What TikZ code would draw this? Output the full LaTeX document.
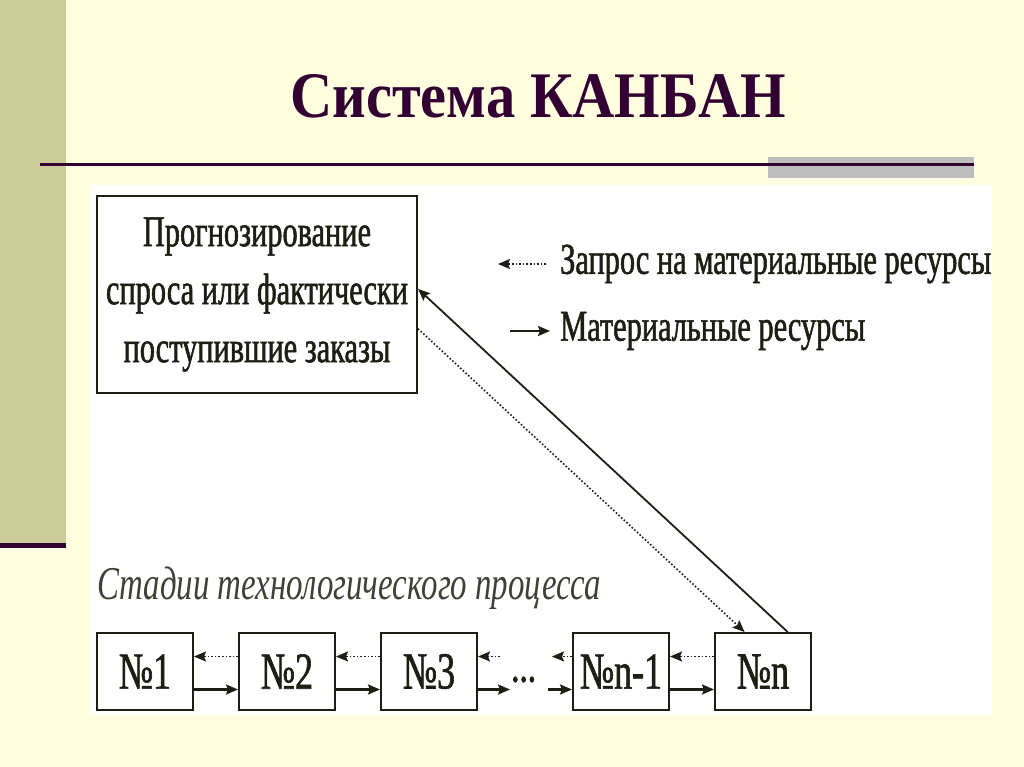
\documentclass[tikz,border=0pt]{standalone}
\usepackage{fontspec}
\setmainfont{Liberation Serif}
\newfontfamily\narrowfont[FakeStretch=0.69,FakeBold=1.2]{Liberation Serif}
\newfontfamily\stagefont[FakeStretch=0.7]{Liberation Serif}
\newfontfamily\titlefont[FakeStretch=0.9]{Liberation Serif}
\usepackage{xcolor}
\usetikzlibrary{positioning,arrows.meta}

\definecolor{cream}{RGB}{255,255,224}
\definecolor{khaki}{RGB}{204,204,153}
\definecolor{plum}{RGB}{51,0,51}
\definecolor{bargrey}{RGB}{190,190,190}
\definecolor{ink}{RGB}{30,30,20}

\tikzset{
	box/.style={draw=ink,line width=2pt,fill=white,inner sep=0pt,text=ink,
		font=\narrowfont\fontsize{44}{58}\selectfont},
	stage/.style={box,minimum width=96pt,minimum height=77pt,font=\narrowfont\fontsize{52}{58}\selectfont},
	legend/.style={anchor=west,inner sep=0pt,text=ink,font=\narrowfont\fontsize{44}{50}\selectfont},
	matline/.style={->,line width=2.2pt,draw=ink},
	reqline/.style={->,dotted,line width=1.6pt,draw=ink}
}

\begin{document}
\begin{tikzpicture}[x=1pt,y=-1pt,>={Stealth[length=12pt,width=10pt,inset=2pt]},node distance=44pt]
	\useasboundingbox (0,0) rectangle (1024,767);
	% slide background
	\fill[cream] (0,0) rectangle (1024,767);
	\fill[khaki] (0,0) rectangle (66,545);
	\fill[plum] (0,543) rectangle (66,548);
	\fill[bargrey] (768,157) rectangle (974,178);
	\draw[plum,line width=3pt] (40,165) -- (974,165);
	\fill[white] (90,185) rectangle (992,715);
	\node[anchor=base,text=plum,font=\titlefont\bfseries\fontsize{65}{70}\selectfont] (title) at (538,118) {Система КАНБАН};

	% forecast and legend
	\node[box,minimum width=320pt,minimum height=197pt,align=center] (fc) at (257,294.5)
		{Прогнозирование\\спроса или фактически\\поступившие заказы};
	\node[legend] (req) at (560,264) {Запрос на материальные ресурсы};
	\node[legend] (mat) at (560,331) {Материальные ресурсы};
	\coordinate (reqend) at (498,264);
	\coordinate (matstart) at (510,331);
	\draw[reqline,shorten <=14pt] (req.west) -- (reqend);
	\draw[matline,shorten >=10pt] (matstart) -- (mat.west);

	% stages
	\node[legend,text=ink!85,font=\stagefont\itshape\fontsize{47}{50}\selectfont] (stages) at (97,588) {Стадии технологического процесса};
	\node[stage] (s1) at (145,671.5) {№1};
	\node[stage] (s2) [right=of s1] {№2};
	\node[stage] (s3) [right=of s2] {№3};
	\node[stage] (sn1) [right=94pt of s3] {№n-1};
	\node[stage] (sn) [right=of sn1] {№n};
	\node[inner sep=0pt,text=ink,font=\narrowfont\fontsize{48}{50}\selectfont] (dots) [right=33pt of s3,yshift=-8pt] {...};

	\draw[reqline] ([yshift=15pt]s2.west) -- ([yshift=15pt]s1.east);
	\draw[reqline] ([yshift=15pt]s3.west) -- ([yshift=15pt]s2.east);
	\draw[reqline] ([yshift=15pt]sn.west) -- ([yshift=15pt]sn1.east);
	\draw[matline] ([yshift=-18pt]s1.east) -- ([yshift=-18pt]s2.west);
	\draw[matline] ([yshift=-18pt]s2.east) -- ([yshift=-18pt]s3.west);
	\draw[matline] ([yshift=-18pt]sn1.east) -- ([yshift=-18pt]sn.west);

	\coordinate (r3) at ([xshift=22pt,yshift=15pt]s3.east);
	\coordinate (m3) at ([xshift=32pt,yshift=-18pt]s3.east);
	\coordinate (rn) at ([xshift=-20pt,yshift=15pt]sn1.west);
	\coordinate (mn) at ([xshift=-24pt,yshift=-18pt]sn1.west);
	\draw[reqline] (r3) -- ([yshift=15pt]s3.east);
	\draw[matline] ([yshift=-18pt]s3.east) -- (m3);
	\draw[reqline] ([yshift=15pt]sn1.west) -- (rn);
	\draw[matline] (mn) -- ([yshift=-18pt]sn1.west);

	% back to the forecast
	\draw[matline,line width=1.8pt] (sn.58) -- (fc.2);
	\draw[reqline] (fc.-12) -- (sn.115);
\end{tikzpicture}
\end{document}
